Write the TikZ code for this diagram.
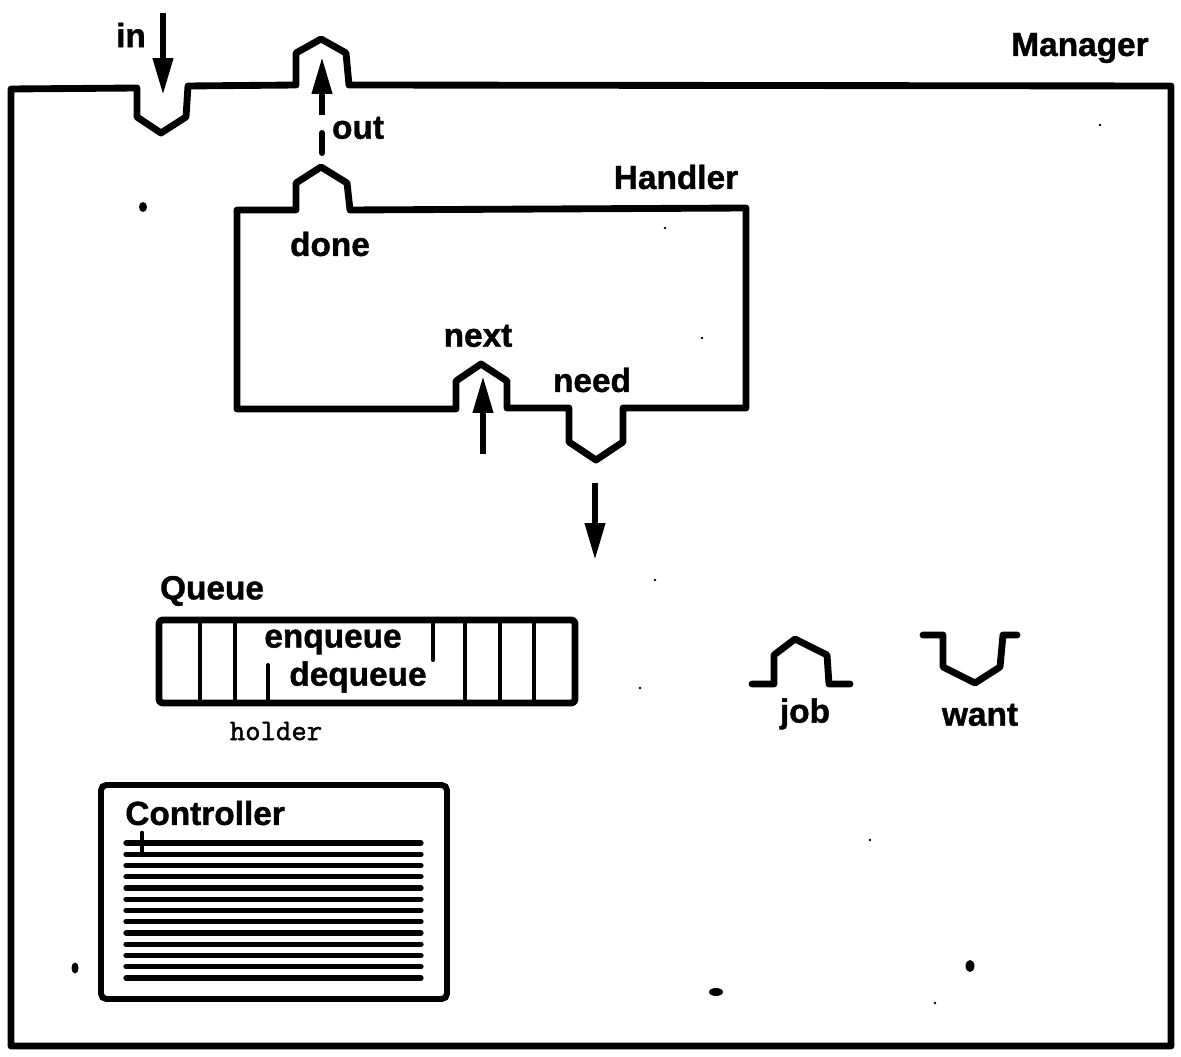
\documentclass[tikz,border=0pt]{standalone}
\usepackage{fontspec}
\setmainfont{Liberation Sans}[BoldFeatures={FakeBold=1.2}]
\newfontfamily\holderfont{Latin Modern Mono}[FakeBold=1.5]
\usetikzlibrary{arrows.meta}
\begin{document}
\begin{tikzpicture}[x=0.02cm,y=-0.02cm,>={Triangle[length=21pt,width=11pt]},
    wall/.style={line width=3.9pt,line join=round,line cap=round},
    thin wall/.style={line width=2.3pt,line cap=round},
    lbl/.style={inner sep=0pt,font=\bfseries\fontsize{19}{22}\selectfont},
    mono/.style={inner sep=0pt,font=\holderfont\fontsize{17}{20}\selectfont},
    flow/.style={->,line width=3.4pt}]
    \useasboundingbox (0,0) rectangle (1181,1057);

    % Manager with the in socket and the out plug
    \draw[wall] (11,1046) -- (11,89) -- (137,88) -- (137,117) -- (161,133) -- (186,117)
        -- (188,86) -- (296,85) -- (296,53) -- (321,39) -- (346,53) -- (349,85)
        -- (1171,86) -- (1171,1046) -- cycle;
    \node[lbl] (manager) at (1080,48) {Manager};
    \node[lbl] (lblin) at (131,35) {in};
    \node[lbl] (lblout) at (358,128) {out};

    % Handler
    \draw[wall] (237,409) -- (237,210) -- (296,210) -- (296,183) -- (321,167) -- (347,183)
        -- (350,210) -- (746,208) -- (746,408) -- (623,408) -- (623,442) -- (596,460)
        -- (569,442) -- (569,408) -- (507,408) -- (507,381) -- (481,364) -- (456,381)
        -- (456,409) -- cycle;
    \node[lbl] (handler) at (676,177) {Handler};
    \node[lbl] (done) at (330,244) {done};
    \node[lbl] (next) at (478,336) {next};
    \node[lbl] (need) at (592,380) {need};

    % arrows
    \coordinate (inA) at (163,13);   \coordinate (inB) at (163,95);
    \coordinate (outA) at (322,115); \coordinate (outB) at (322,57);
    \coordinate (outC) at (322,133); \coordinate (outD) at (322,153);
    \coordinate (nextA) at (483,454); \coordinate (nextB) at (483,376);
    \coordinate (needA) at (595,483); \coordinate (needB) at (595,560);
    \draw[flow] (inA) -- (inB);
    \draw[flow] (outA) -- (outB);
    \draw[line width=3.4pt,line cap=round] (outC) -- (outD);
    \draw[flow] (nextA) -- (nextB);
    \draw[flow] (needA) -- (needB);

    % Queue
    \node[lbl] (queue) at (212,591) {Queue};
    \draw[wall,rounded corners=2pt] (159,620) rectangle (575,703);
    \foreach \x in {200,235,465,500,534}
        \draw[thin wall] (\x,620) -- (\x,703);
    \draw[thin wall] (433,620) -- (433,660);
    \draw[thin wall] (268,665) -- (268,703);
    \node[lbl] (enq) at (333,642) {enqueue};
    \node[lbl] (deq) at (358,677) {dequeue};
    \node[mono] (holder) at (276,731) {holder};

    % Controller
    \draw[line width=3.4pt,rounded corners=3pt] (101,785) rectangle (447,999);
    \node[lbl,anchor=west] (ctrl) at (125,813) {Controller};
    \foreach \i in {0,...,12}
        \draw[line width=3pt,line cap=round] (126,843+11.25*\i) -- (421,843+11.25*\i);
    \draw[line width=2.6pt,line cap=round] (142,833) -- (142,855);

    % job and want
    \draw[wall] (752,684) -- (774,684) -- (774,655) -- (795,639) -- (827,655) -- (829,684) -- (850,684);
    \node[lbl] (job) at (805,714) {job};
    \draw[wall] (923,635) -- (943,635) -- (943,667) -- (975,683) -- (1000,667) -- (1003,635) -- (1017,635);
    \node[lbl] (want) at (980,715) {want};

    % specks
    \fill (143,207) ellipse (4 and 5);
    \fill (75,968) ellipse (3.5 and 5.5);
    \fill (716,992) ellipse (7 and 4);
    \fill (970,966) ellipse (4.5 and 6);
    \foreach \x/\y in {655/580,1100/125,665/228,702/338,640/688,870/840,935/1003}
        \fill (\x,\y) circle (1.3);
\end{tikzpicture}
\end{document}
